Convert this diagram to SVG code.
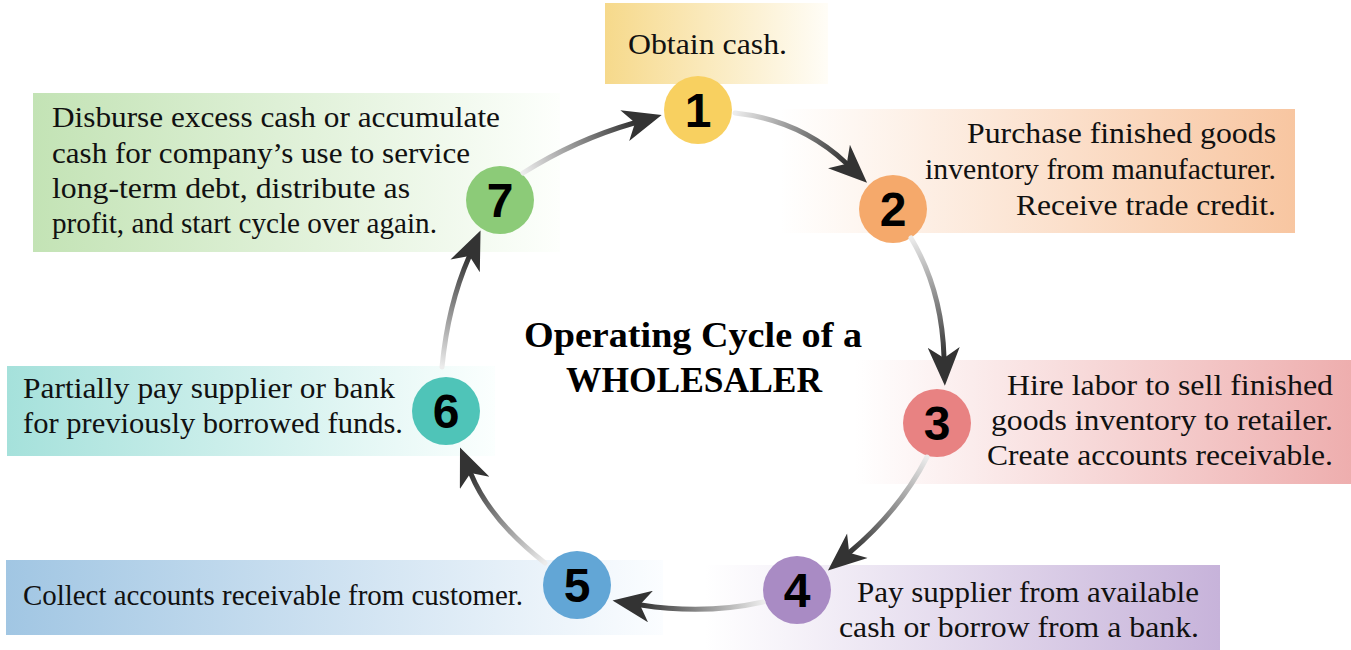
<svg xmlns="http://www.w3.org/2000/svg" width="1351" height="650" viewBox="0 0 1351 650">
<style>
.t{font-family:"Liberation Serif","Times New Roman",serif;font-size:30px;fill:#111}
.n{font-family:"Liberation Sans",Arial,sans-serif;font-size:48px;font-weight:bold;fill:#000;text-anchor:middle}
.title{font-family:"Liberation Serif","Times New Roman",serif;font-size:36px;font-weight:bold;fill:#000}
.arr{fill:none;stroke-width:5;stroke-linecap:round;marker-end:url(#head)}
</style>
<defs>
<marker id="head" markerUnits="userSpaceOnUse" markerWidth="40" markerHeight="32" viewBox="0 0 36 30" refX="9" refY="15" orient="auto">
<path d="M0,0 L36,15 L0,30 L10,15 Z" fill="#333"/>
</marker>
<linearGradient id="g1" x1="0" y1="0" x2="1" y2="0"><stop offset="0" stop-color="#f6d98b"/><stop offset="1" stop-color="#fffdf7"/></linearGradient>
<linearGradient id="g2" x1="0" y1="0" x2="1" y2="0"><stop offset="0" stop-color="#ffffff"/><stop offset="1" stop-color="#f8c6a1"/></linearGradient>
<linearGradient id="g3" x1="0" y1="0" x2="1" y2="0"><stop offset="0" stop-color="#ffffff"/><stop offset="1" stop-color="#eeaeae"/></linearGradient>
<linearGradient id="g4" x1="0" y1="0" x2="1" y2="0"><stop offset="0" stop-color="#ffffff"/><stop offset="1" stop-color="#c7b3da"/></linearGradient>
<linearGradient id="g5" x1="0" y1="0" x2="1" y2="0"><stop offset="0" stop-color="#a1c6e3"/><stop offset="1" stop-color="#fbfdff"/></linearGradient>
<linearGradient id="g6" x1="0" y1="0" x2="1" y2="0"><stop offset="0" stop-color="#a5e1db"/><stop offset="1" stop-color="#fbfffe"/></linearGradient>
<linearGradient id="g7" x1="0" y1="0" x2="1" y2="0"><stop offset="0" stop-color="#c3e3b5"/><stop offset="1" stop-color="#fdfffc"/></linearGradient>
<linearGradient id="a1" gradientUnits="userSpaceOnUse" x1="735" y1="113" x2="846" y2="163"><stop offset="0" stop-color="#ececec"/><stop offset="1" stop-color="#333"/></linearGradient>
<linearGradient id="a2" gradientUnits="userSpaceOnUse" x1="911" y1="238" x2="944" y2="357"><stop offset="0" stop-color="#ececec"/><stop offset="1" stop-color="#333"/></linearGradient>
<linearGradient id="a3" gradientUnits="userSpaceOnUse" x1="927" y1="457" x2="850" y2="552"><stop offset="0" stop-color="#ececec"/><stop offset="1" stop-color="#333"/></linearGradient>
<linearGradient id="a4" gradientUnits="userSpaceOnUse" x1="763" y1="602" x2="641" y2="605"><stop offset="0" stop-color="#ececec"/><stop offset="1" stop-color="#333"/></linearGradient>
<linearGradient id="a5" gradientUnits="userSpaceOnUse" x1="545" y1="563" x2="471" y2="474"><stop offset="0" stop-color="#ececec"/><stop offset="1" stop-color="#333"/></linearGradient>
<linearGradient id="a6" gradientUnits="userSpaceOnUse" x1="442" y1="367" x2="469" y2="257"><stop offset="0" stop-color="#ececec"/><stop offset="1" stop-color="#333"/></linearGradient>
<linearGradient id="a7" gradientUnits="userSpaceOnUse" x1="523" y1="173" x2="634" y2="123"><stop offset="0" stop-color="#ececec"/><stop offset="1" stop-color="#333"/></linearGradient>
</defs>
<rect width="1351" height="650" fill="#fff"/>

<g id="node1">
<rect x="605" y="3" width="223" height="81" fill="url(#g1)"/>
<circle cx="698" cy="110" r="34" fill="#f8d060"/>
<text class="n" x="698" y="127">1</text>
<text class="t" x="628" y="54" textLength="159" lengthAdjust="spacingAndGlyphs">Obtain cash.</text>
</g>

<g id="node2">
<rect x="780" y="109" width="515" height="124" fill="url(#g2)"/>
<circle cx="893" cy="209" r="34" fill="#f5a96b"/>
<text class="n" x="893" y="226">2</text>
<text class="t" x="967" y="143" textLength="309" lengthAdjust="spacingAndGlyphs">Purchase finished goods</text>
<text class="t" x="925" y="179" textLength="351" lengthAdjust="spacingAndGlyphs">inventory from manufacturer.</text>
<text class="t" x="1016" y="215" textLength="260" lengthAdjust="spacingAndGlyphs">Receive trade credit.</text>
</g>

<g id="node3">
<rect x="855" y="360" width="496" height="124" fill="url(#g3)"/>
<circle cx="937" cy="423" r="34" fill="#e88282"/>
<text class="n" x="937" y="440">3</text>
<text class="t" x="1007" y="395" textLength="326" lengthAdjust="spacingAndGlyphs">Hire labor to sell finished</text>
<text class="t" x="991" y="430" textLength="342" lengthAdjust="spacingAndGlyphs">goods inventory to retailer.</text>
<text class="t" x="987" y="465" textLength="346" lengthAdjust="spacingAndGlyphs">Create accounts receivable.</text>
</g>

<g id="node4">
<rect x="705" y="565" width="515" height="85" fill="url(#g4)"/>
<circle cx="797" cy="590" r="34" fill="#a98bc4"/>
<text class="n" x="797" y="607">4</text>
<text class="t" x="857" y="602" textLength="342" lengthAdjust="spacingAndGlyphs">Pay supplier from available</text>
<text class="t" x="839" y="637" textLength="360" lengthAdjust="spacingAndGlyphs">cash or borrow from a bank.</text>
</g>

<g id="node5">
<rect x="6" y="560" width="657" height="75" fill="url(#g5)"/>
<circle cx="577" cy="585" r="34" fill="#62a6d6"/>
<text class="n" x="577" y="602">5</text>
<text class="t" x="23" y="605" textLength="500" lengthAdjust="spacingAndGlyphs">Collect accounts receivable from customer.</text>
</g>

<g id="node6">
<rect x="7" y="366" width="488" height="90" fill="url(#g6)"/>
<circle cx="446" cy="411" r="34" fill="#4fc4b8"/>
<text class="n" x="446" y="428">6</text>
<text class="t" x="23" y="398" textLength="372" lengthAdjust="spacingAndGlyphs">Partially pay supplier or bank</text>
<text class="t" x="23" y="433" textLength="380" lengthAdjust="spacingAndGlyphs">for previously borrowed funds.</text>
</g>

<g id="node7">
<rect x="33" y="93" width="527" height="159" fill="url(#g7)"/>
<circle cx="500" cy="200" r="34" fill="#8ccb78"/>
<text class="n" x="500" y="217">7</text>
<text class="t" x="52" y="127" textLength="448" lengthAdjust="spacingAndGlyphs">Disburse excess cash or accumulate</text>
<text class="t" x="52" y="163" textLength="418" lengthAdjust="spacingAndGlyphs">cash for company’s use to service</text>
<text class="t" x="52" y="198" textLength="358" lengthAdjust="spacingAndGlyphs">long-term debt, distribute as</text>
<text class="t" x="52" y="233" textLength="385" lengthAdjust="spacingAndGlyphs">profit, and start cycle over again.</text>
</g>

<g id="title">
<text class="title" x="524" y="347" textLength="338" lengthAdjust="spacingAndGlyphs">Operating Cycle of a</text>
<text class="title" x="566" y="392" textLength="256" lengthAdjust="spacingAndGlyphs">WHOLESALER</text>
</g>

<g id="connectors">
<path class="arr" stroke="url(#a1)" d="M735,113 Q800,120 846,163"/>
<path class="arr" stroke="url(#a2)" d="M911,238 Q942,290 944,357"/>
<path class="arr" stroke="url(#a3)" d="M927,457 Q900,510 850,552"/>
<path class="arr" stroke="url(#a4)" d="M763,602 Q705,615 641,605"/>
<path class="arr" stroke="url(#a5)" d="M545,563 Q490,520 471,474"/>
<path class="arr" stroke="url(#a6)" d="M442,367 Q448,305 469,257"/>
<path class="arr" stroke="url(#a7)" d="M523,173 Q575,140 634,123"/>
</g>
</svg>
